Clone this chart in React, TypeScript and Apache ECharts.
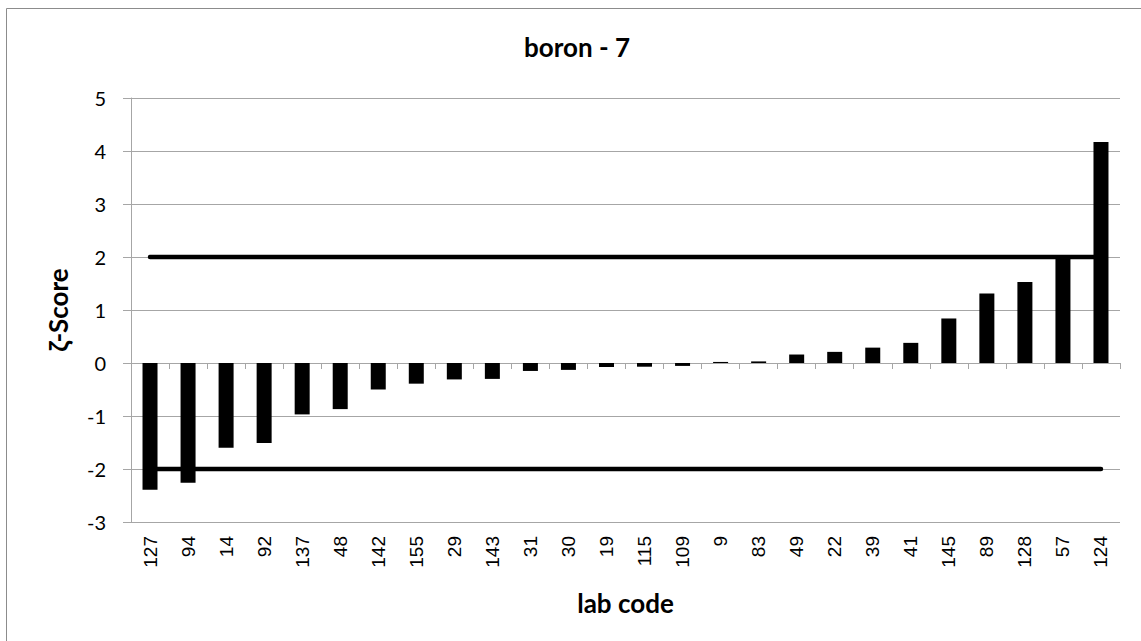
import React, { useEffect, useRef } from "react";
import * as echarts from "echarts";

const labCodes = ["127", "94", "14", "92", "137", "48", "142", "155", "29", "143", "31", "30", "19", "115", "109", "9", "83", "49", "22", "39", "41", "145", "89", "128", "57", "124"];
const zetaScores = [-2.39, -2.26, -1.6, -1.51, -0.97, -0.87, -0.5, -0.39, -0.31, -0.3, -0.15, -0.13, -0.076, -0.07, -0.055, 0.02, 0.03, 0.16, 0.21, 0.29, 0.38, 0.84, 1.31, 1.53, 1.98, 4.17];
const upperLimit = 2;
const lowerLimit = -2;
const yTicks = { min: -3, max: 5, interval: 1 };
const chartTitle = "boron - 7";
const xAxisName = "lab code";
const yAxisName = "ζ-Score";

const GRID = "#a6a6a6";
const SANS = "Lato, 'Noto Sans', sans-serif";
const ARIAL = "'Liberation Sans', Arial, sans-serif";

export default function App() {
  const ref = useRef<HTMLDivElement>(null);
  useEffect(() => {
    if (!ref.current) return;
    const chart = echarts.init(ref.current, null, { renderer: "svg" });
    const upper = labCodes.map(() => upperLimit);
    const lower = labCodes.map(() => lowerLimit);
    const option: any = {
      animation: false,
      backgroundColor: "#ffffff",
      grid: { left: 131, right: 21, top: 98, bottom: 119, containLabel: false },
      graphic: [
        {
          type: "rect",
          shape: { x: 6.5, y: 8.5, width: 1400, height: 900 },
          style: { fill: "none", stroke: "#8c8c8c", lineWidth: 1 },
          silent: true,
        },
        {
          type: "text",
          x: 577,
          y: 47,
          style: {
            text: chartTitle,
            fill: "#000",
            font: `bold 26px ${SANS}`,
            textAlign: "center",
            textVerticalAlign: "middle",
          },
        },
      ],
      xAxis: [
        {
          type: "category",
          data: labCodes,
          axisLine: { show: true, onZero: true, lineStyle: { color: GRID, width: 1 } },
          axisTick: { show: true, interval: 0, length: 6, lineStyle: { color: GRID } },
          axisLabel: { show: false },
          splitLine: { show: false },
        },
        {
          type: "category",
          data: labCodes,
          position: "bottom",
          axisLine: { show: false, onZero: false },
          axisTick: { show: false },
          axisLabel: {
            show: true,
            interval: 0,
            rotate: 90,
            margin: 14,
            color: "#000",
            fontSize: 19,
            fontFamily: ARIAL,
          },
          name: xAxisName,
          nameLocation: "middle",
          nameGap: 68,
          nameTextStyle: { color: "#000", fontSize: 26, fontWeight: "bold", fontFamily: SANS },
        },
      ],
      yAxis: {
        type: "value",
        min: yTicks.min,
        max: yTicks.max,
        interval: yTicks.interval,
        axisLine: { show: true, lineStyle: { color: GRID, width: 1 } },
        axisTick: { show: true, length: 8, lineStyle: { color: GRID } },
        axisLabel: { color: "#000", fontSize: 20, fontFamily: SANS, margin: 25 },
        splitLine: { show: true, lineStyle: { color: GRID, width: 1 } },
        name: yAxisName,
        nameLocation: "middle",
        nameGap: 60,
        nameRotate: 90,
        nameTextStyle: { color: "#000", fontSize: 26, fontWeight: "bold", fontFamily: SANS },
      },
      series: [
        {
          type: "line",
          data: upper,
          xAxisIndex: 0,
          symbol: "none",
          z: 1,
          lineStyle: { color: "#000", width: 4.5, cap: "round" },
        },
        {
          type: "line",
          data: lower,
          xAxisIndex: 0,
          symbol: "none",
          z: 1,
          lineStyle: { color: "#000", width: 4.5, cap: "round" },
        },
        {
          type: "bar",
          data: zetaScores,
          xAxisIndex: 0,
          barWidth: 15,
          z: 3,
          itemStyle: { color: "#000" },
        },
      ],
    };
    chart.setOption(option);
    return () => chart.dispose();
  }, []);
  return (
    <div
      ref={ref}
      style={{ position: "absolute", left: 0, top: 0, width: 1141, height: 641 }}
    />
  );
}
